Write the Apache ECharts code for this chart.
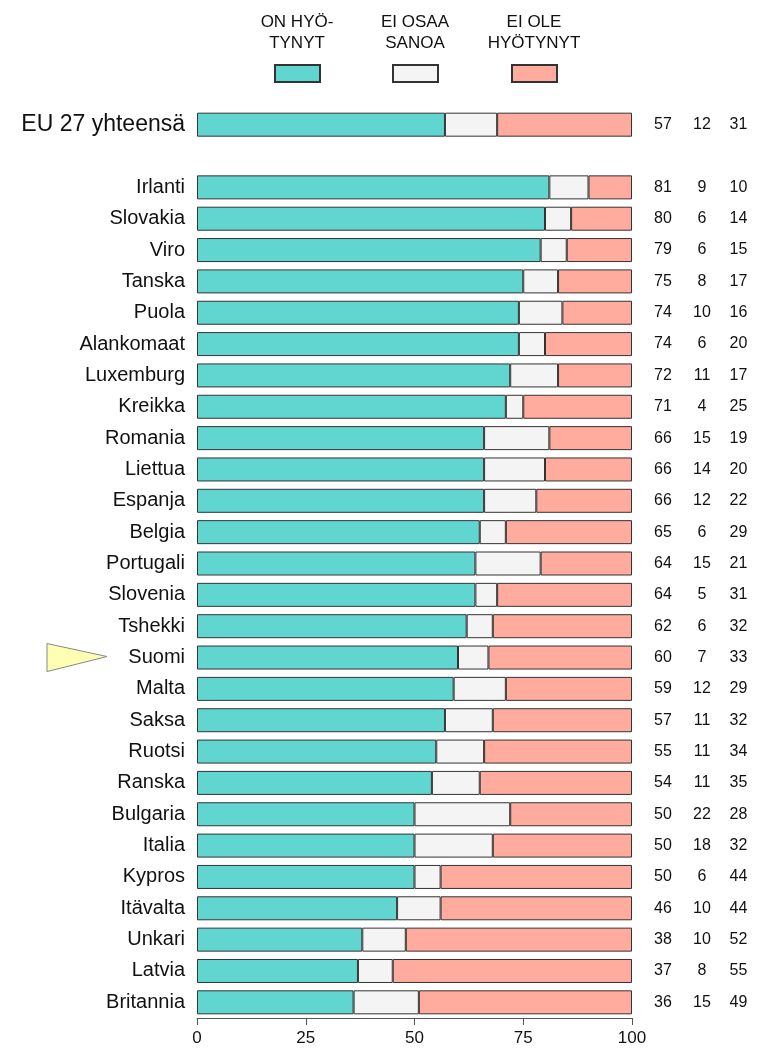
<!DOCTYPE html>
<html>
<head>
<meta charset="utf-8">
<script src="https://cdn.jsdelivr.net/npm/echarts@6/dist/echarts.min.js"></script>
<style>
  html, body { margin: 0; padding: 0; background: #fff; }
  #chart { width: 757px; height: 1053px; }
</style>
</head>
<body>
<div id="chart"></div>
<script>
// rivit ylhäältä alas, tyhjä rivi EU:n ja maiden välissä
var categories = ["EU 27 yhteensä", "", "Irlanti", "Slovakia", "Viro", "Tanska", "Puola",
  "Alankomaat", "Luxemburg", "Kreikka", "Romania", "Liettua", "Espanja", "Belgia",
  "Portugali", "Slovenia", "Tshekki", "Suomi", "Malta", "Saksa", "Ruotsi", "Ranska",
  "Bulgaria", "Italia", "Kypros", "Itävalta", "Unkari", "Latvia", "Britannia"];
var onHyotynyt = [57, null, 81, 80, 79, 75, 74, 74, 72, 71, 66, 66, 66, 65, 64, 64, 62, 60, 59, 57, 55, 54, 50, 50, 50, 46, 38, 37, 36];
var eiOsaaSanoa = [12, null, 9, 6, 6, 8, 10, 6, 11, 4, 15, 14, 12, 6, 15, 5, 6, 7, 12, 11, 11, 11, 22, 18, 6, 10, 10, 8, 15];
var eiOleHyotynyt = [31, null, 10, 14, 15, 17, 16, 20, 17, 25, 19, 20, 22, 29, 21, 31, 32, 33, 29, 32, 34, 35, 28, 32, 44, 44, 52, 55, 49];
var xTicks = [0, 25, 50, 75, 100];
var seriesNames = ["ON HYÖ-\nTYNYT", "EI OSAA\nSANOA", "EI OLE\nHYÖTYNYT"];
var colors = ["#61d6d1", "#f4f4f4", "#ffab9e"];
var highlight = "Suomi";

var font = "'Liberation Sans', Arial, sans-serif";

var myChart = echarts.init(document.getElementById("chart"));

function barSeries(i, data) {
  var s = {
    name: seriesNames[i],
    type: "bar",
    stack: "all",
    barWidth: 24,
    data: data,
    itemStyle: { color: colors[i], borderColor: "#333", borderWidth: 1 },
    emphasis: { disabled: true },
  };
  if (i === 2) {
    // luvut oikealle puolelle
    s.label = {
      show: true,
      position: "right",
      distance: 12,
      fontFamily: font,
      fontSize: 16,
      color: "#111",
      formatter: function (p) {
        var k = p.dataIndex;
        if (onHyotynyt[k] == null) return "";
        return "{a|" + onHyotynyt[k] + "}{b|" + eiOsaaSanoa[k] + "}{c|" + eiOleHyotynyt[k] + "}";
      },
      rich: {
        a: { width: 38, align: "center", fontFamily: font, fontSize: 16, color: "#111" },
        b: { width: 40, align: "center", fontFamily: font, fontSize: 16, color: "#111" },
        c: { width: 33, align: "center", fontFamily: font, fontSize: 16, color: "#111" },
      },
    };
  }
  return s;
}

var legendX = [274, 392, 511];
var legends = seriesNames.map(function (n, i) {
  return {
    data: [n],
    left: legendX[i],
    top: 64,
    padding: 0,
    itemWidth: 45,
    itemHeight: 17,
    icon: "rect",
    selectedMode: false,
    formatter: function () { return ""; },
    textStyle: { fontSize: 1 },
  };
});

var legendTitles = seriesNames.map(function (n, i) {
  return {
    type: "text",
    x: legendX[i] + 23,
    y: 12,
    style: {
      text: n,
      textAlign: "center",
      font: "17px " + font,
      lineHeight: 21,
      fill: "#111",
    },
  };
});

var options = {
  animation: false,
  backgroundColor: "#fff",
  legend: legends,
  grid: { left: 197, right: 125, top: 109, height: 909 },
  xAxis: {
    type: "value",
    min: 0,
    max: 100,
    interval: 25,
    axisLine: { show: true, lineStyle: { color: "#555", width: 1 } },
    axisTick: { show: true, length: 7, lineStyle: { color: "#555" } },
    splitLine: { show: false },
    axisLabel: {
      margin: 12,
      fontFamily: font,
      fontSize: 17,
      color: "#111",
      formatter: function (v) { return xTicks.indexOf(v) >= 0 ? String(v) : ""; },
    },
  },
  yAxis: {
    type: "category",
    inverse: true,
    data: categories,
    axisLine: { show: false },
    axisTick: { show: false },
    axisLabel: {
      margin: 12,
      fontFamily: font,
      fontSize: 20,
      color: "#111",
      formatter: function (v, idx) {
        return idx === 0 ? "{eu|" + v + "}" : v;
      },
      rich: { eu: { fontFamily: font, fontSize: 23, color: "#111" } },
    },
  },
  graphic: legendTitles,
  series: [barSeries(0, onHyotynyt), barSeries(1, eiOsaaSanoa), barSeries(2, eiOleHyotynyt)],
};

myChart.setOption(options);

// keltainen nuoli Suomen kohdalle
var sy = myChart.convertToPixel({ yAxisIndex: 0 }, highlight);
myChart.setOption({
  graphic: legendTitles.concat([{
    type: "polygon",
    shape: { points: [[47, sy - 14], [47, sy + 14], [107, sy - 1]] },
    style: { fill: "#ffffb3", stroke: "#888", lineWidth: 1 },
  }]),
});

window.addEventListener("resize", function () {
  myChart.resize();
});
</script>
</body>
</html>
